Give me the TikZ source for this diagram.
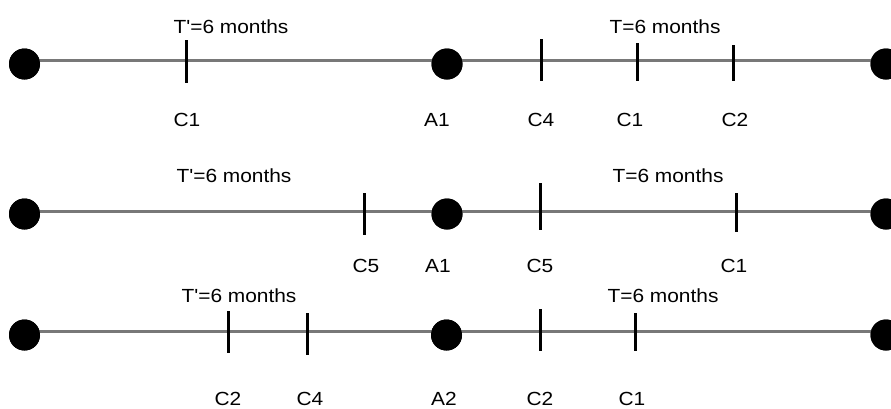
\documentclass[tikz,border=0pt]{standalone}
\usepackage{fontspec}
\setmainfont{Liberation Sans}[Ligatures=TeXOff,FakeStretch=1.1]
\begin{document}
\begin{tikzpicture}[x=1pt,y=-1pt,
  dotnode/.style={circle,fill=black,inner sep=0pt,minimum size=31pt},
  tickmark/.style={rectangle,fill=black,inner sep=0pt,minimum width=3pt},
  tl/.style={draw={rgb,255:red,120;green,120;blue,120},line width=3pt},
  lbl/.style={anchor=base,inner sep=0pt,font=\fontsize{19}{19}\selectfont}]
\useasboundingbox (0,0) rectangle (891,408);
% ---- row 1 ----
\node[dotnode] (a1) at (24.5,64) {};
\node[dotnode] (a2) at (447,64) {};
\node[dotnode] (a3) at (886,64) {};
\draw[tl] ([yshift=4pt]a1.center) -- ([yshift=4pt]a2.center) -- ([yshift=4pt]a3.center);
\node[dotnode] at (a1) {};
\node[dotnode] at (a2) {};
\node[dotnode] at (a3) {};
\node[tickmark,minimum height=43pt] (t11) at (186,61.5) {};
\node[tickmark,minimum height=42pt] (t12) at (541,60) {};
\node[tickmark,minimum height=38pt] (t13) at (637,62) {};
\node[tickmark,minimum height=36pt] (t14) at (733,63) {};
\node[lbl] (p1) at (231,33) {T'=6 months};
\node[lbl] (q1) at (665,33) {T=6 months};
\node[lbl] (l11) at (187,126) {C1};
\node[lbl] (l12) at (437,126) {A1};
\node[lbl] (l13) at (541,126) {C4};
\node[lbl] (l14) at (630,126) {C1};
\node[lbl] (l15) at (735,126) {C2};
% ---- row 2 ----
\node[dotnode] (b1) at (24.5,214) {};
\node[dotnode] (b2) at (447,214) {};
\node[dotnode] (b3) at (886,214) {};
\draw[tl] ([yshift=3pt]b1.center) -- ([yshift=3pt]b2.center) -- ([yshift=3pt]b3.center);
\node[dotnode] at (b1) {};
\node[dotnode] at (b2) {};
\node[dotnode] at (b3) {};
\node[tickmark,minimum height=42pt] (t21) at (364,214) {};
\node[tickmark,minimum height=47pt] (t22) at (540,206.5) {};
\node[tickmark,minimum height=39pt] (t23) at (736,212.5) {};
\node[lbl] (p2) at (234,182) {T'=6 months};
\node[lbl] (q2) at (668,182) {T=6 months};
\node[lbl] (l21) at (366,272) {C5};
\node[lbl] (l22) at (438,272) {A1};
\node[lbl] (l23) at (540,272) {C5};
\node[lbl] (l24) at (734,272) {C1};
% ---- row 3 ----
\node[dotnode] (c1) at (24.5,335) {};
\node[dotnode] (c2) at (446.5,335) {};
\node[dotnode] (c3) at (886,335) {};
\draw[tl] ([yshift=3.5pt]c1.center) -- ([yshift=3.5pt]c2.center) -- ([yshift=3.5pt]c3.center);
\node[dotnode] at (c1) {};
\node[dotnode] at (c2) {};
\node[dotnode] at (c3) {};
\node[tickmark,minimum height=42pt] (t31) at (228,332) {};
\node[tickmark,minimum height=42pt] (t32) at (307,334) {};
\node[tickmark,minimum height=42pt] (t33) at (540,330) {};
\node[tickmark,minimum height=38pt] (t34) at (635,332) {};
\node[lbl] (p3) at (239,302) {T'=6 months};
\node[lbl] (q3) at (663,302) {T=6 months};
\node[lbl] (l31) at (228,405) {C2};
\node[lbl] (l32) at (310,405) {C4};
\node[lbl] (l33) at (444,405) {A2};
\node[lbl] (l34) at (540,405) {C2};
\node[lbl] (l35) at (632,405) {C1};
\end{tikzpicture}
\end{document}
